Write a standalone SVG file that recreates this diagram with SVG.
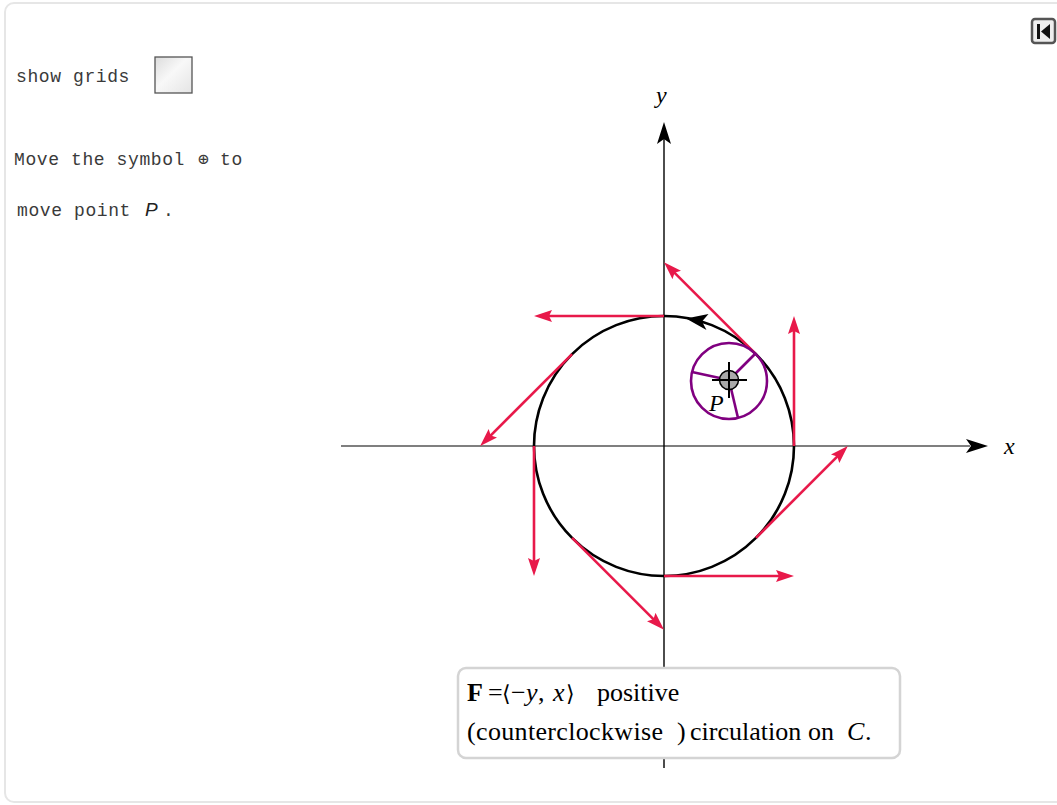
<svg xmlns="http://www.w3.org/2000/svg" width="1057" height="805" viewBox="0 0 1057 805">
<style>
.mono{font-family:"Liberation Mono","Courier New",monospace;font-size:18px;fill:#3a3a3a;letter-spacing:0.6px}
.math{font-family:"Liberation Serif","DejaVu Serif",serif;font-size:26px;fill:#000}
.ax{font-family:"Liberation Serif","DejaVu Serif",serif;font-size:24px;font-style:italic;fill:#000}
.it{font-style:italic}
.vec{stroke:#e8194a;stroke-width:2.6;fill:none;marker-end:url(#ra)}
.pur{stroke:#800080;stroke-width:2.6;fill:none}
</style>
<defs>
<marker id="ra" markerUnits="userSpaceOnUse" markerWidth="20" markerHeight="12" refX="10" refY="6" orient="auto" viewBox="0 0 20 12">
<path d="M0,0 L18,6 L0,12 L3,6 z" fill="#e8194a"/>
</marker>
<linearGradient id="cb" x1="0" y1="0" x2="1" y2="1">
<stop offset="0" stop-color="#dcdcdc"/>
<stop offset="0.45" stop-color="#f8f8f8"/>
<stop offset="1" stop-color="#e4e4e4"/>
</linearGradient>
</defs>
<rect width="1057" height="805" fill="#fff"/>
<rect x="5" y="3" width="1070" height="799" rx="9" fill="none" stroke="#e6e6e6" stroke-width="2"/>

<g id="controls">
<text class="mono" x="16" y="82">show grids</text>
<rect x="155" y="57" width="37" height="36" fill="url(#cb)" stroke="#555" stroke-width="1.3"/>
<text class="mono" x="14" y="165">Move the symbol</text>
<text class="mono" x="198" y="165" font-size="16">⊕</text>
<text class="mono" x="220" y="165">to</text>
<text class="mono" x="17" y="216">move point</text>
<text x="145" y="216" font-family="Liberation Sans,Arial,sans-serif" font-style="italic" font-size="19" fill="#222">P</text>
<text class="mono" x="163" y="216">.</text>
</g>

<g id="reset-button">
<rect x="1032" y="19" width="23" height="24" rx="3" fill="#eee" stroke="#555" stroke-width="2.5"/>
<rect x="1037" y="24" width="3" height="15" fill="#111"/>
<path d="M1050,24 L1050,39 L1041,31.5 z" fill="#111"/>
</g>

<g id="axes">
<line x1="341" y1="446" x2="970" y2="446" stroke="#555" stroke-width="1.6"/>
<path d="M988,446 L966,439 L971,446 L966,453 z" fill="#000"/>
<line x1="664" y1="768" x2="664" y2="138" stroke="#000" stroke-width="1.4"/>
<path d="M664,122 L657,144 L664,139 L671,144 z" fill="#000"/>
<text class="ax" x="656" y="103">y</text>
<text class="ax" x="1004" y="454">x</text>
</g>

<g id="curve-C">
<circle cx="664" cy="446" r="130" fill="none" stroke="#000" stroke-width="2.6"/>
<path d="M686,318.5 L708.5,314 L702,321.5 L706.5,330 z" fill="#000"/>
</g>

<g id="vectors">
<line class="vec" x1="794" y1="446" x2="794" y2="324"/>
<line class="vec" x1="755.92" y1="354.08" x2="669.66" y2="267.82"/>
<line class="vec" x1="664" y1="316" x2="542" y2="316"/>
<line class="vec" x1="572.08" y1="354.08" x2="485.82" y2="440.34"/>
<line class="vec" x1="534" y1="446" x2="534" y2="568"/>
<line class="vec" x1="572.08" y1="537.92" x2="658.34" y2="624.18"/>
<line class="vec" x1="664" y1="576" x2="786" y2="576"/>
<line class="vec" x1="755.92" y1="537.92" x2="842.18" y2="451.66"/>
</g>

<g id="point-P">
<circle class="pur" cx="729" cy="381" r="38"/>
<line class="pur" x1="729" y1="380" x2="756" y2="353"/>
<line class="pur" x1="729" y1="380" x2="692" y2="372"/>
<line class="pur" x1="729" y1="380" x2="738" y2="418"/>
<circle cx="729" cy="380" r="9.5" fill="#aaa" stroke="#000" stroke-width="1.5"/>
<line x1="712" y1="380" x2="747" y2="380" stroke="#000" stroke-width="2"/>
<line x1="729" y1="362" x2="729" y2="398" stroke="#000" stroke-width="2"/>
<text class="ax" x="709" y="411">P</text>
</g>

<g id="caption">
<rect x="458" y="668" width="442" height="90" rx="8" fill="#fff" stroke="#d4d4d4" stroke-width="2.5"/>
<text class="math" y="701"><tspan x="467" font-weight="bold">F</tspan><tspan x="488">=</tspan><tspan x="502" font-size="22">⟨</tspan><tspan x="511">−</tspan><tspan x="526" class="it">y</tspan><tspan x="538">,</tspan><tspan x="553" class="it">x</tspan><tspan x="566" font-size="22">⟩</tspan><tspan x="597">positive</tspan></text>
<text class="math" y="740"><tspan x="467" textLength="196" lengthAdjust="spacing">(counterclockwise</tspan><tspan x="677">)</tspan><tspan x="690">circulation</tspan><tspan x="808">on</tspan><tspan x="847" class="it">C</tspan><tspan x="865">.</tspan></text>
</g>
</svg>
